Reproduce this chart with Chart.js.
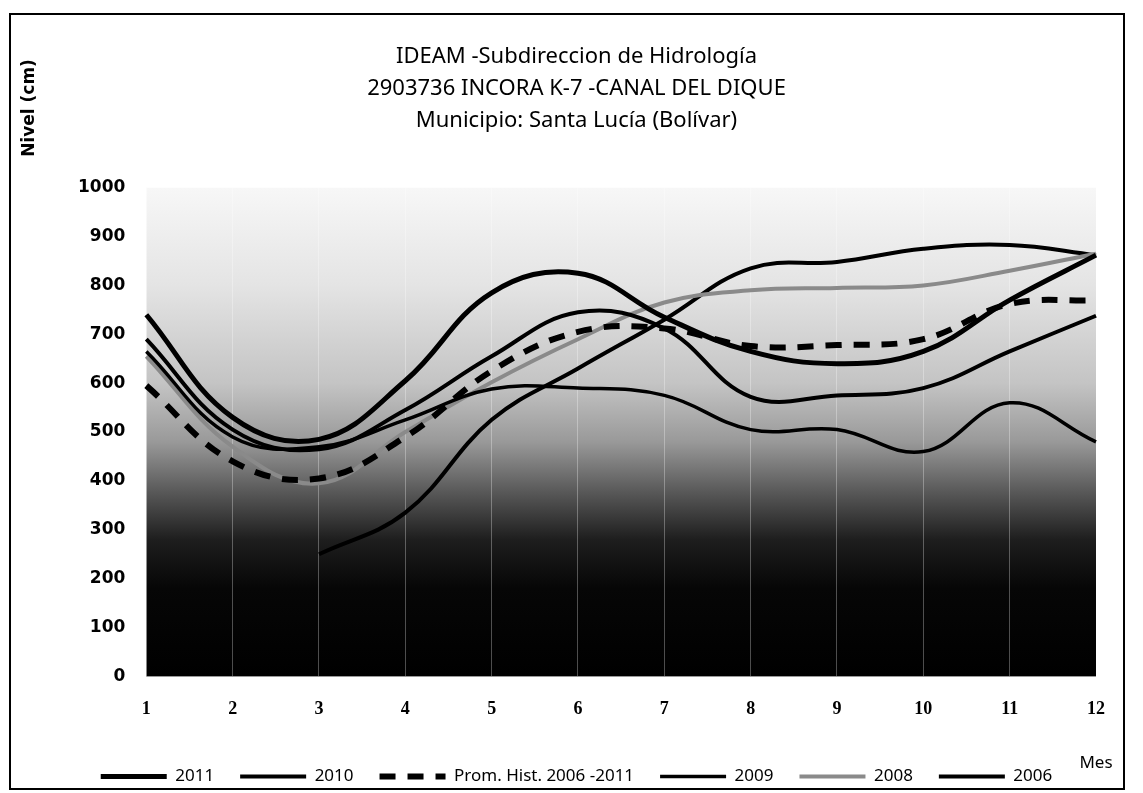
<!DOCTYPE html>
<html>
<head>
<meta charset="utf-8">
<script src="https://cdn.jsdelivr.net/npm/chart.js@4.4.1/dist/chart.umd.min.js"></script>
<style>
  body { margin: 0; background: #fff; }
  #frame { position: absolute; left: 9px; top: 13px; width: 1112px; height: 773px; border: 2px solid #000; }
  #wrap { position: absolute; left: 0; top: 0; width: 1143px; height: 793px; }
</style>
</head>
<body>
<div id="frame"></div>
<div id="wrap"><canvas id="chart"></canvas></div>
<script>
const months = ['1', '2', '3', '4', '5', '6', '7', '8', '9', '10', '11', '12']
const nivel2011 = [740, 530, 485, 605, 785, 825, 735, 665, 640, 665, 770, 862]
const nivel2010 = [690, 505, 465, 545, 655, 745, 712, 572, 575, 590, 665, 738]
const promHist = [595, 440, 405, 490, 625, 705, 712, 676, 678, 690, 762, 770]
const nivel2009 = [665, 490, 470, 525, 588, 590, 575, 505, 505, 460, 560, 480]
const nivel2008 = [655, 470, 395, 500, 602, 690, 765, 790, 795, 800, 830, 865]
const nivel2006 = [null, null, 250, 335, 525, 630, 730, 835, 848, 875, 883, 862]

// fondo degradado del area de trazado y textos sueltos
const plotBackground = {
  id: 'plotBackground',
  beforeDraw (chart) {
    const { ctx, chartArea: a } = chart
    const g = ctx.createLinearGradient(0, a.top, 0, a.bottom)
    g.addColorStop(0, '#f7f7f7')
    g.addColorStop(0.2, '#e4e4e4')
    g.addColorStop(0.4, '#c4c4c4')
    g.addColorStop(0.52, '#999999')
    g.addColorStop(0.62, '#5a5a5a')
    g.addColorStop(0.72, '#1e1e1e')
    g.addColorStop(0.82, '#060606')
    g.addColorStop(1, '#000000')
    ctx.save()
    ctx.fillStyle = g
    ctx.fillRect(a.left, a.top, a.right - a.left, a.bottom - a.top)
    ctx.restore()
  },
  afterDraw (chart) {
    const { ctx, chartArea: a } = chart
    ctx.save()
    ctx.fillStyle = '#000'
    ctx.font = 'bold 17px "DejaVu Sans"'
    ctx.translate(30, 108)
    ctx.rotate(-Math.PI / 2)
    ctx.textAlign = 'center'
    ctx.textBaseline = 'middle'
    ctx.fillText('Nivel (cm)', 0, 0)
    ctx.restore()
    ctx.save()
    ctx.fillStyle = '#000'
    ctx.font = '17px "Noto Sans"'
    ctx.textAlign = 'center'
    ctx.textBaseline = 'middle'
    ctx.fillText('Mes', a.right, 763)
    ctx.restore()
  }
}

function serie (label, data, color, width, dash) {
  return {
    label,
    data,
    borderColor: color,
    backgroundColor: color,
    borderWidth: width,
    borderDash: dash || [],
    pointRadius: 0,
    tension: 0.4,
    fill: false,
    spanGaps: false
  }
}

new Chart(document.getElementById('chart'), {
  type: 'line',
  data: {
    labels: months,
    datasets: [
      serie('2011', nivel2011, '#000', 5),
      serie('2010', nivel2010, '#000', 4),
      serie('Prom. Hist. 2006 -2011', promHist, '#000', 6, [16, 12]),
      serie('2009', nivel2009, '#000', 3.5),
      serie('2008', nivel2008, '#8a8a8a', 4),
      serie('2006', nivel2006, '#000', 4)
    ]
  },
  options: {
    responsive: true,
    maintainAspectRatio: false,
    animation: false,
    layout: { padding: { left: 57, right: 47, top: 0, bottom: -2 } },
    plugins: {
      title: {
        display: true,
        text: ['IDEAM -Subdireccion de Hidrología', '2903736 INCORA K-7 -CANAL DEL DIQUE', 'Municipio: Santa Lucía (Bolívar)'],
        color: '#000',
        font: { family: 'Noto Sans', size: 22, weight: 'normal', lineHeight: 1.45 },
        padding: { top: 41, bottom: 51 }
      },
      legend: {
        position: 'bottom',
        labels: {
          color: '#000',
          font: { family: 'Noto Sans', size: 17 },
          usePointStyle: true,
          pointStyle: 'line',
          pointStyleWidth: 66,
          boxWidth: 66,
          padding: 26,
          generateLabels (chart) {
            const items = Chart.defaults.plugins.legend.labels.generateLabels(chart)
            items.forEach(item => {
              const ds = chart.data.datasets[item.datasetIndex]
              item.lineDash = ds.borderDash
              item.lineWidth = ds.borderWidth
              item.strokeStyle = ds.borderColor
              item.pointStyle = 'line'
            })
            return items
          }
        }
      },
      tooltip: { enabled: false }
    },
    scales: {
      x: {
        grid: { display: true, color: 'rgba(255,255,255,0.3)', drawTicks: false },
        border: { display: false },
        ticks: { color: '#000', padding: 22, font: { family: 'Liberation Serif', size: 18, weight: 'bold' } }
      },
      y: {
        min: 0,
        max: 1000,
        grid: { display: false, drawTicks: false },
        border: { display: false },
        ticks: {
          stepSize: 100,
          color: '#000',
          padding: 21,
          font: { family: 'DejaVu Sans', size: 17, weight: 'bold' },
          callback: v => String(v)
        }
      }
    }
  },
  plugins: [plotBackground]
})
</script>
</body>
</html>
